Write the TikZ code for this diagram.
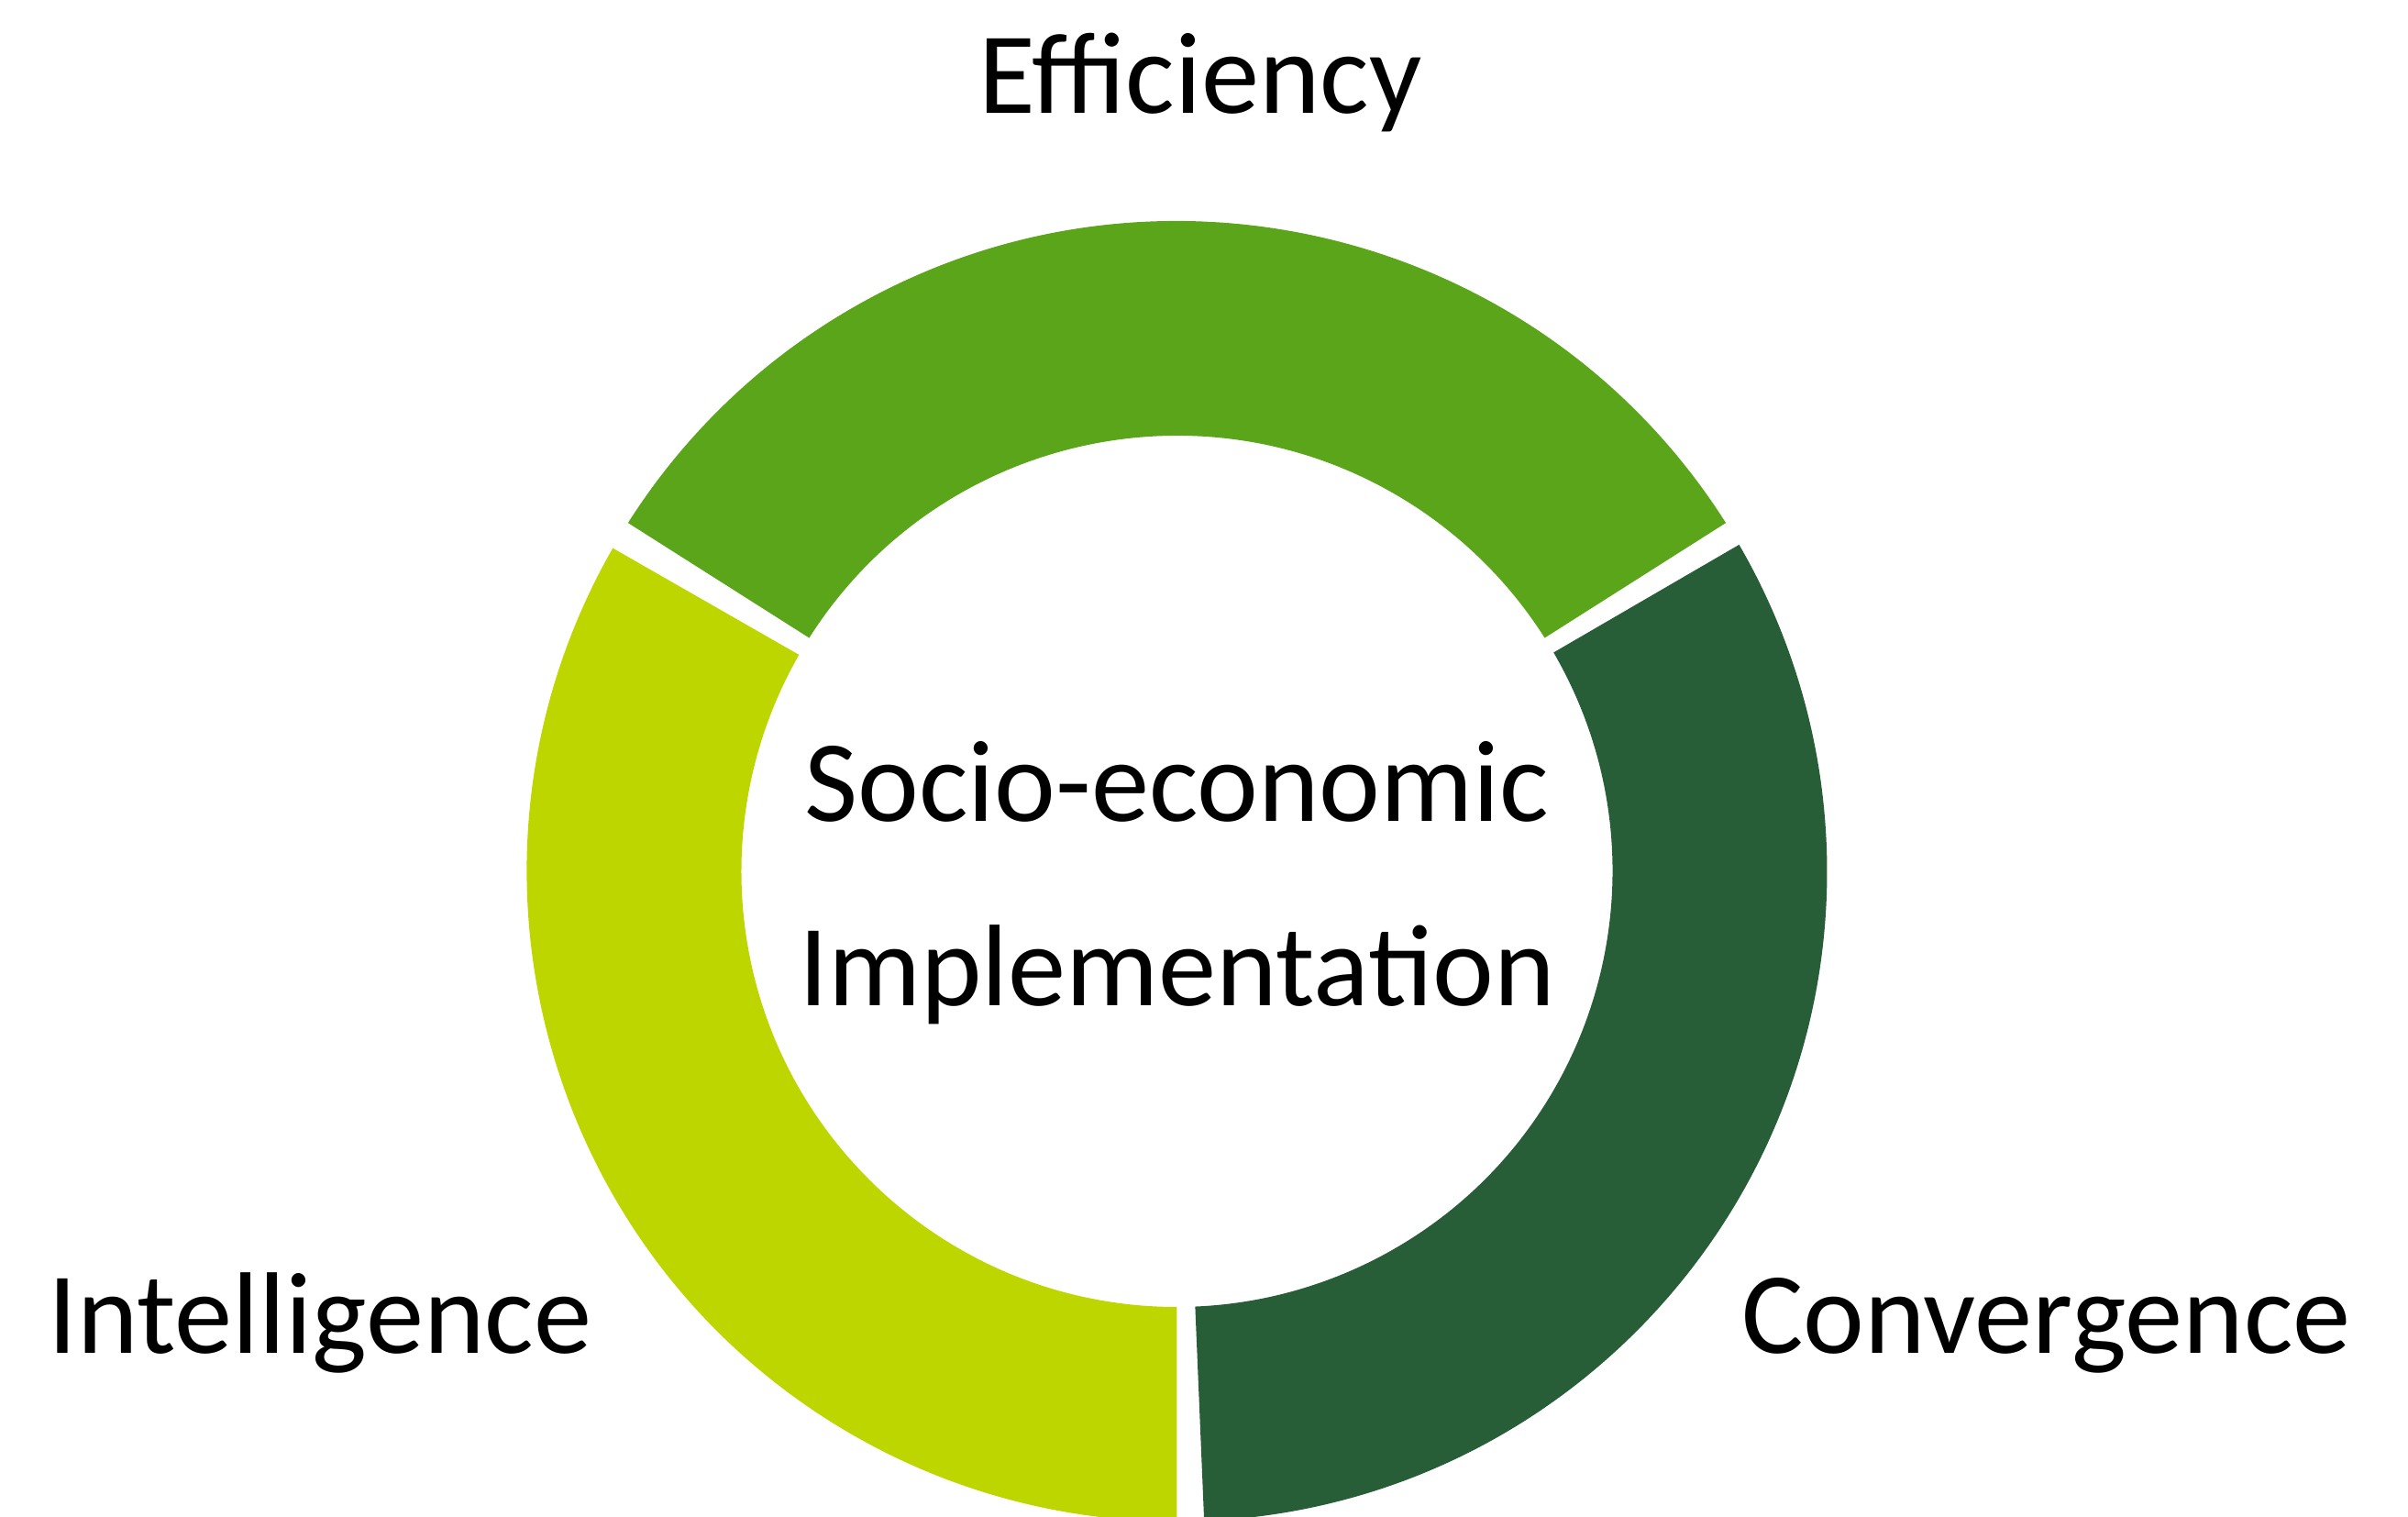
\documentclass[tikz,border=0pt]{standalone}
\usepackage{fontspec}
\setmainfont{Carlito}
\definecolor{effgreen}{HTML}{5AA519}
\definecolor{intlime}{HTML}{BED600}
\definecolor{convgreen}{HTML}{275E38}
\tikzset{lbl/.style={anchor=base, inner sep=0pt, font=\fontsize{36}{57.2}\selectfont}}

\begin{document}
\begin{tikzpicture}
			\useasboundingbox (-12.835,-7.04) rectangle (13.425,9.50);
			\fill[effgreen] (32.4:7.09) arc[start angle=32.4, end angle=147.6, radius=7.09]
			-- (147.6:4.75) arc[start angle=147.6, end angle=32.4, radius=4.75] -- cycle;
			\fill[intlime] (150.2:7.09) arc[start angle=150.2, end angle=270, radius=7.09]
			-- (270:4.75) arc[start angle=270, end angle=150.2, radius=4.75] -- cycle;
			\fill[convgreen] (-87.6:7.09) arc[start angle=-87.6, end angle=30.15, radius=7.09]
			-- (30.15:4.75) arc[start angle=30.15, end angle=-87.6, radius=4.75] -- cycle;
			\node (E) [lbl] at (0.255,8.26) {Efficiency};
			\node (S) [lbl, align=center] at (0,-1.47) {Socio-economic\\Implementation};
			\node (I) [lbl] at (-9.345,-5.25) {Intelligence};
			\node (C) [lbl] at (9.48,-5.25) {Convergence};
		\end{tikzpicture}
\end{document}
